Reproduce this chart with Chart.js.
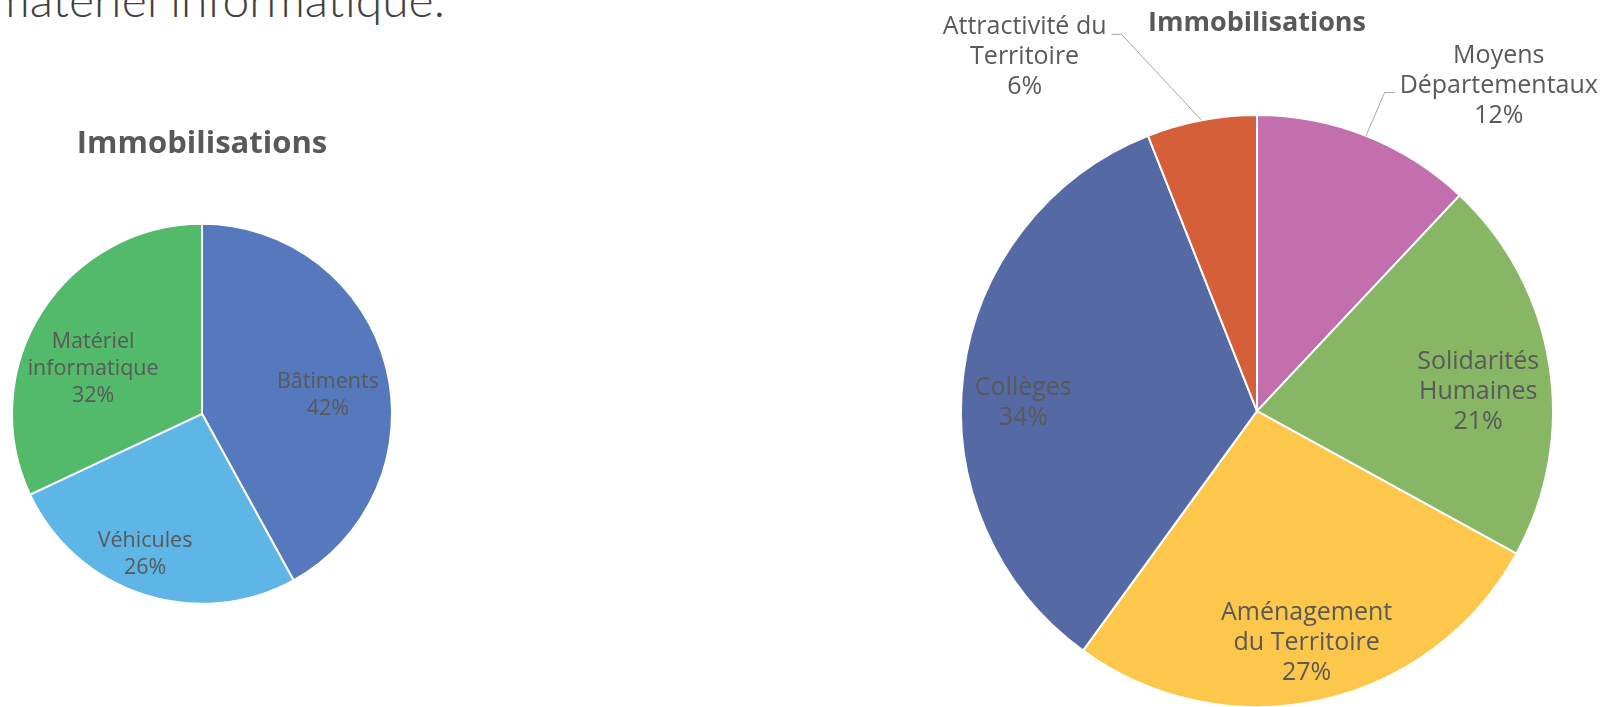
<!DOCTYPE html>
<html lang="fr">
<head>
<meta charset="utf-8">
<title>Immobilisations</title>
<script src="https://cdn.jsdelivr.net/npm/chart.js@4.4.0/dist/chart.umd.min.js"></script>
<style>
  html, body { margin: 0; padding: 0; background: #fff; width: 1610px; height: 707px; overflow: hidden; }
  .intro {
    position: absolute; left: -9px; top: -25px;
    font-family: "Lato", sans-serif; font-weight: 300; font-size: 48px; line-height: 48px;
    color: #404040; white-space: nowrap;
  }
  #leftPie { position: absolute; left: 0; top: 0; }
  #rightPie { position: absolute; left: 904px; top: 0; }
</style>
</head>
<body>
<div class="intro">matériel informatique.</div>
<canvas id="leftPie" width="404" height="665"></canvas>
<canvas id="rightPie" width="706" height="783"></canvas>
<script>
// first pie: split by asset type
const leftCategories = ["Bâtiments", "Véhicules", ["Matériel", "informatique"]];
const leftValues = [42, 26, 32];
const leftColors = ["#5579BC", "#5DB6E6", "#53B96B"];

// second pie: split by policy area
const rightCategories = [
  ["Moyens", "Départementaux"],
  ["Solidarités", "Humaines"],
  ["Aménagement", "du Territoire"],
  "Collèges",
  ["Attractivité du", "Territoire"],
];
const rightValues = [12, 21, 27, 34, 6];
const rightColors = ["#C36FAD", "#87B765", "#FCC74A", "#5569A5", "#D55F39"];

const FONT = "'Open Sans', sans-serif";

// writes "label / xx%" on every slice; r = distance as a share of the radius,
// shift = degrees away from the slice's middle, leader = callout line to the edge
const sliceLabels = {
  id: "sliceLabels",
  afterDatasetsDraw(chart, args, opts) {
    const ctx = chart.ctx;
    const meta = chart.getDatasetMeta(0);
    const values = chart.data.datasets[0].data;
    const total = values.reduce((a, b) => a + b, 0);

    ctx.save();
    ctx.font = opts.size + "px " + FONT;
    ctx.fillStyle = "#595959";
    ctx.textAlign = "center";
    ctx.textBaseline = "middle";

    meta.data.forEach((arc, i) => {
      const p = arc.getProps(["x", "y", "startAngle", "endAngle", "outerRadius"], true);
      const place = opts.place[i];
      const mid = (p.startAngle + p.endAngle) / 2;
      const a = mid + (place.shift * Math.PI) / 180;
      const d = p.outerRadius * place.r;
      const cx = p.x + Math.cos(a) * d;
      const cy = p.y + Math.sin(a) * d;

      const lines = [].concat(chart.data.labels[i], Math.round((values[i] / total) * 100) + "%");
      const top = cy - ((lines.length - 1) * opts.lineHeight) / 2;
      lines.forEach((t, k) => ctx.fillText(t, cx, top + k * opts.lineHeight));

      if (place.leader) {
        const k = place.leader.line;
        const w = ctx.measureText(lines[k]).width;
        const dir = place.leader.side === "right" ? 1 : -1;
        const ly = top + k * opts.lineHeight + 7;
        const x0 = cx + dir * (w / 2 + 5);
        ctx.beginPath();
        ctx.moveTo(x0, ly);
        ctx.lineTo(x0 + dir * 10, ly);
        ctx.lineTo(p.x + Math.cos(mid) * p.outerRadius, p.y + Math.sin(mid) * p.outerRadius);
        ctx.strokeStyle = "#A6A6A6";
        ctx.lineWidth = 1;
        ctx.stroke();
      }
    });
    ctx.restore();
  },
};

function pieChart(id, labels, values, colors, radius, title, labelOpts) {
  return new Chart(document.getElementById(id), {
    type: "pie",
    data: {
      labels: labels,
      datasets: [
        {
          data: values,
          backgroundColor: colors,
          borderColor: "#fff",
          borderWidth: 2,
          hoverOffset: 0,
          radius: radius,
        },
      ],
    },
    options: {
      responsive: false,
      animation: false,
      layout: { padding: 0 },
      plugins: {
        legend: { display: false },
        tooltip: { enabled: false },
        title: {
          display: true,
          text: "Immobilisations",
          color: "#595959",
          font: { family: FONT, size: title.size, weight: "bold", lineHeight: 1.2 },
          padding: { top: title.top, bottom: 0 },
        },
        sliceLabels: labelOpts,
      },
    },
    plugins: [sliceLabels],
  });
}

pieChart("leftPie", leftCategories, leftValues, leftColors, 190, { size: 31, top: 125.4 }, {
  size: 21.5,
  lineHeight: 27,
  place: [
    { r: 0.67, shift: 6 },
    { r: 0.8, shift: 4 },
    { r: 0.62, shift: -10 },
  ],
});

pieChart("rightPie", rightCategories, rightValues, rightColors, 296, { size: 27, top: 6.8 }, {
  size: 25,
  lineHeight: 30,
  place: [
    { r: 1.37, shift: 15, leader: { line: 1, side: "left" } },
    { r: 0.75, shift: 4 },
    { r: 0.8, shift: 0.5 },
    { r: 0.79, shift: -5.3 },
    { r: 1.43, shift: -22.5, leader: { line: 0, side: "right" } },
  ],
});
</script>
</body>
</html>
